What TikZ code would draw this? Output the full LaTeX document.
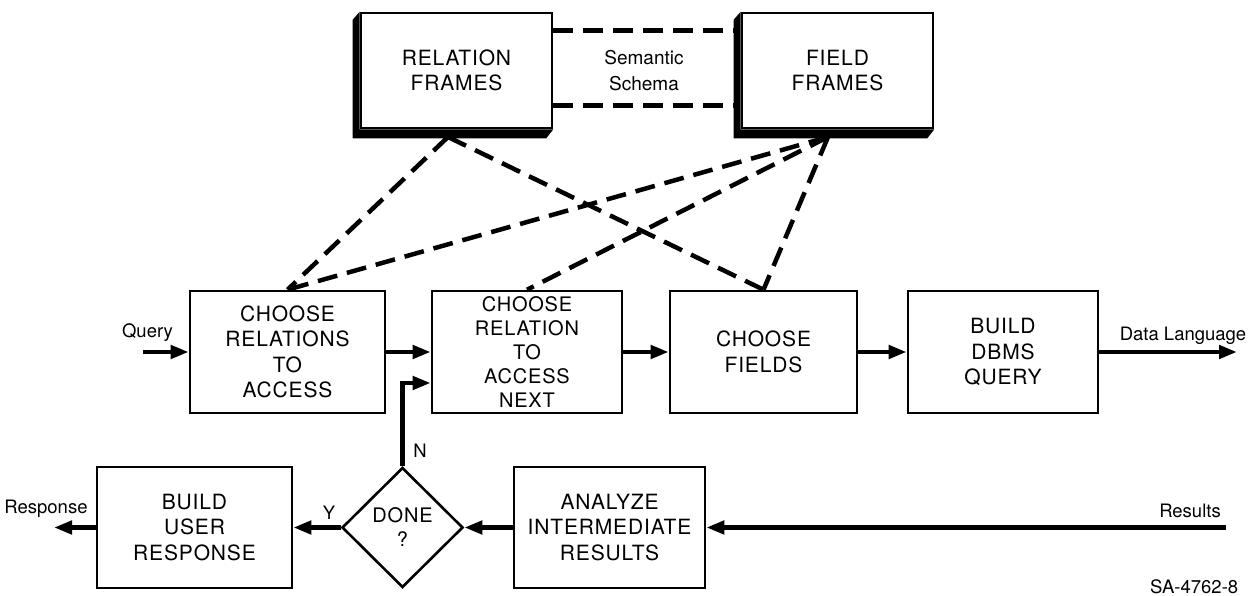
\documentclass[tikz,border=0pt]{standalone}
\usepackage{fontspec}
\setmainfont{TeX Gyre Heros}
\newfontfamily\boxfont[LetterSpace=4]{TeX Gyre Heros}
\usetikzlibrary{arrows.meta,shapes.geometric,calc}

\begin{document}
\begin{tikzpicture}[x=1pt,y=-1pt,
  boxtext/.style={font=\boxfont\fontsize{21}{25.5}\selectfont},
  lbl/.style={font=\fontsize{18.5}{22}\selectfont, inner sep=0pt},
  proc/.style={draw, line width=2.6pt, boxtext, align=center,
    inner sep=0pt, minimum height=122pt},
  frame/.style={draw, line width=2.6pt, boxtext, align=center,
    inner sep=0pt, minimum width=191pt, minimum height=115pt},
  decision/.style={draw, diamond, line width=2.6pt, align=center,
    font=\boxfont\fontsize{20}{24}\selectfont, inner sep=0pt,
    minimum width=121pt, minimum height=120pt},
  flow/.style={line width=4.5pt, -{Triangle[length=18pt,width=13pt]}},
  link/.style={line width=4.5pt, dash pattern=on 20pt off 10pt}
]
\useasboundingbox (0,0) rectangle (1259,596);

% semantic schema frames
\node[frame] (rel) at (456.5,70.5) {RELATION\\FRAMES};
\node[frame] (fld) at (837.5,70.5) {FIELD\\FRAMES};
\foreach \f in {rel,fld}{
  \fill (\f.north west) -- ++(-7,8) -- ($(\f.south west)+(-7,9)$)
    -- ($(\f.south east)+(-7,9)$) -- (\f.south east) -- (\f.south west) -- cycle;
}
\node[lbl, align=center, font=\fontsize{19}{26}\selectfont] (schema) at (644,71) {Semantic\\Schema};
\draw[link] ($(rel.north east)+(0,19)$) -- ($(fld.north west)+(-7,19)$);
\draw[link] ($(rel.north east)+(0,94)$) -- ($(fld.north west)+(-7,94)$);
\coordinate (ra) at (448,137);
\coordinate (fa) at (828,137);

% main processing row
\node[proc, minimum width=195pt] (crel) at (287.5,352) {CHOOSE\\RELATIONS\\TO\\ACCESS};
\node[proc, minimum width=190pt, font=\boxfont\fontsize{20}{24}\selectfont] (cnext) at (527,352) {CHOOSE\\RELATION\\TO\\ACCESS\\NEXT};
\node[proc, minimum width=187pt] (cfld) at (763.5,352) {CHOOSE\\FIELDS};
\node[proc, minimum width=190pt] (dbms) at (1003,352) {BUILD\\DBMS\\QUERY};

% frame links
\draw[link] (ra) -- (crel.north);
\draw[link] (ra) -- (cfld.north);
\draw[link] (fa) -- (crel.north);
\draw[link] (fa) -- (cnext.north);
\draw[link] (fa) -- (cfld.north);

% result handling row
\node[proc, minimum width=195pt, minimum height=121pt] (user) at (194.5,527.5) {BUILD\\USER\\RESPONSE};
\node[decision] (done) at (402.5,527.5) {DONE\\?};
\node[proc, minimum width=191pt, minimum height=121pt] (anl) at (609.5,527.5) {ANALYZE\\INTERMEDIATE\\RESULTS};

% free ends
\coordinate (qin) at (143,352);
\coordinate (dout) at (1237,352);
\coordinate (rin) at (1226,527.5);
\coordinate (rout) at (54,527.5);

% flow arrows
\draw[flow] (qin) -- (crel.west);
\draw[flow] (crel.east) -- (cnext.west);
\draw[flow] (cnext.east) -- (cfld.west);
\draw[flow] (cfld.east) -- (dbms.west);
\draw[flow] (dbms.east) -- (dout);
\draw[flow] (rin) -- (anl.east);
\draw[flow] (anl.west) -- (done.east);
\draw[flow] (done.west) -- (user.east);
\draw[flow] (user.west) -- (rout);
\draw[flow] (done.north) |- ([yshift=-31pt]cnext.west);

% labels
\node[lbl, anchor=base] (lq) at (147.5,337) {Query};
\node[lbl, anchor=base] (ld) at (1183,340) {Data Language};
\node[lbl, anchor=base] (lr) at (1190,517) {Results};
\node[lbl, anchor=base] (lo) at (46,513) {Response};
\node[lbl, anchor=base] (ly) at (329,519) {Y};
\node[lbl, anchor=base] (ln) at (420,457) {N};
\node[lbl, anchor=base west] (code) at (1150,593) {SA-4762-8};
\end{tikzpicture}
\end{document}
